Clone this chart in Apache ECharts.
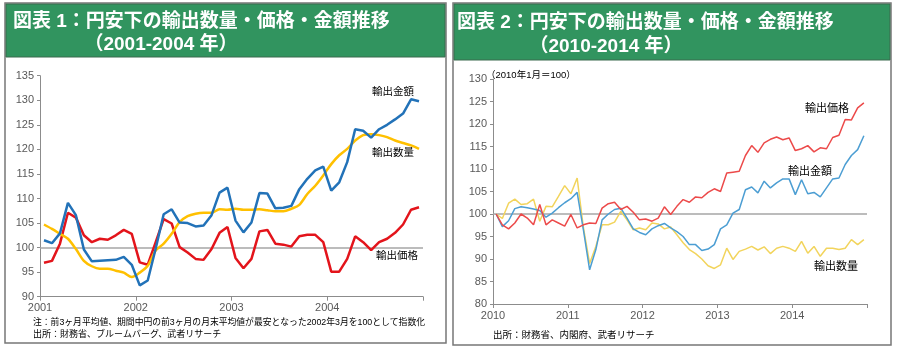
<!DOCTYPE html>
<html>
<head>
<meta charset="utf-8">
<script src="https://cdn.jsdelivr.net/npm/echarts@6/dist/echarts.min.js"></script>
<style>
  html, body { margin: 0; padding: 0; background: #fff; }
  #main { width: 900px; height: 354px; }
</style>
</head>
<body>
<div id="main"></div>
<script>
// 図表1 (2001-2004, 月次)
const years1 = ['2001', '2002', '2003', '2004'];
const amount1 = [101.5,100.9,102.9,109.1,106.6,99.6,97.2,97.3,97.4,97.5,98.1,96.5,
  92.3,93.3,99.8,106.8,107.8,105.1,105.0,104.3,104.5,106.6,111.2,112.2,
  105.5,103.1,105.1,111.1,111.0,108.0,108.1,108.5,111.9,114.0,115.7,116.5,
  111.6,113.3,117.4,124.1,123.8,122.4,124.1,125.0,126.1,127.3,130.2,129.8];
const price1 = [96.9,97.3,100.8,107.1,106.1,102.5,101.1,101.8,101.6,102.5,103.6,102.8,
  97.0,96.5,101.1,105.8,104.9,100.1,99.0,97.7,97.5,99.7,103.0,104.2,
  97.9,95.8,97.7,103.3,103.6,100.8,100.6,100.2,102.3,102.6,102.6,101.1,
  95.1,95.1,97.7,102.3,101.1,99.5,101.1,101.8,103.0,104.7,107.7,108.2];
const volume1 = [104.7,103.8,102.8,101.8,99.7,97.3,96.2,95.7,95.7,95.3,94.9,94.0,
  94.9,96.3,99.4,100.8,102.8,105.2,106.4,106.9,107.1,107.1,107.8,107.7,
  107.9,107.7,107.7,107.8,107.6,107.4,107.4,107.9,108.7,110.9,112.6,114.7,
  117.0,118.8,120.1,121.8,122.9,123.1,122.9,122.5,121.8,121.3,120.8,120.1];

// 図表2 (2010-2014, 月次)
const years2 = ['2010', '2011', '2012', '2013', '2014'];
const price2 = [100.0,97.6,96.7,98.0,100.0,99.1,97.6,102.1,97.6,98.7,98.0,97.3,
  99.9,96.9,97.6,98.0,97.9,101.3,102.3,102.6,101.0,101.7,100.4,98.7,
  98.9,98.4,99.1,101.6,99.9,101.7,103.2,102.6,103.8,103.6,104.8,105.6,
  105.0,109.1,109.3,109.5,113.0,115.2,113.7,115.8,116.6,117.1,116.5,116.9,
  114.1,114.5,115.2,113.8,114.7,114.5,117.0,117.5,121.0,120.9,123.6,124.7];
const amount2 = [100.0,97.2,98.5,101.2,101.6,101.4,101.1,100.8,99.3,100.2,101.4,102.5,
  103.4,104.8,96.5,87.6,92.1,98.7,100.0,101.0,101.3,99.1,96.7,95.9,
  95.4,96.7,97.4,97.9,96.9,96.1,95.0,93.2,93.2,91.9,92.2,93.2,
  96.7,97.6,100.2,101.0,105.4,106.0,104.7,107.3,105.8,106.9,107.8,107.8,
  104.3,107.6,104.5,104.8,103.8,105.8,107.8,108.0,111.0,113.0,114.3,117.4];
const volume2 = [100.0,99.0,102.4,103.3,102.1,102.3,103.3,98.4,101.7,101.6,103.9,106.3,
  104.5,108.0,97.0,89.0,92.8,97.6,97.6,98.2,100.6,98.7,96.5,96.9,
  96.5,98.0,97.8,96.7,97.1,95.4,93.6,92.1,91.2,90.0,88.5,87.9,
  88.7,92.4,89.9,91.7,92.2,92.8,92.0,92.7,91.2,92.4,92.8,92.4,
  91.7,93.9,91.3,92.8,90.6,92.4,92.4,92.1,92.4,94.3,93.2,94.3];

const FONT = "'Liberation Sans', 'Noto Sans CJK JP', sans-serif";
const GREEN = '#31945F';
const AXIS = '#8c8c8c';
const LABEL = '#595959';

// 月の中央に点を置く
function monthly(arr) {
  return arr.map((v, i) => [i + 0.5, v]);
}

function xAxisFor(idx, years) {
  return {
    type: 'value', gridIndex: idx, min: 0, max: years.length * 12, interval: 12,
    axisLine: { lineStyle: { color: AXIS, width: 1 } },
    axisTick: { length: 4, lineStyle: { color: AXIS } },
    splitLine: { show: false },
    axisLabel: {
      color: LABEL, fontSize: 11, fontFamily: FONT, margin: 6,
      formatter: v => years[v / 12] || ''
    }
  };
}

function yAxisFor(idx, min, max) {
  return {
    type: 'value', gridIndex: idx, min: min, max: max, interval: 5,
    axisLine: { show: true, lineStyle: { color: AXIS, width: 1 } },
    axisTick: { show: true, length: 3, lineStyle: { color: AXIS } },
    splitLine: { show: false },
    axisLabel: { color: LABEL, fontSize: 11, fontFamily: FONT, margin: 6 }
  };
}

function line(idx, data, color, width, smooth, base) {
  const s = {
    type: 'line', xAxisIndex: idx, yAxisIndex: idx,
    data: monthly(data), symbol: 'none', smooth: smooth,
    lineStyle: { color: color, width: width }, silent: true
  };
  if (base) {
    s.markLine = {
      silent: true, symbol: 'none', label: { show: false },
      lineStyle: { color: '#a6a6a6', width: 1.5, type: 'solid' },
      data: [{ yAxis: 100 }], z: 1
    };
  }
  return s;
}

function txt(x, y, text, font, extra) {
  return {
    type: 'text', x: x, y: y, z: 10,
    style: Object.assign({
      text: text, fill: '#000', font: font,
      textVerticalAlign: 'middle'
    }, extra || {})
  };
}

const HEAD = 'bold 19px ' + FONT;

const chart = echarts.init(document.getElementById('main'));
chart.setOption({
  animation: false,
  backgroundColor: '#fff',
  grid: [
    { left: 40, right: 477, top: 75.7, bottom: 57.3 },
    { left: 493, right: 33, top: 79, bottom: 50 }
  ],
  xAxis: [xAxisFor(0, years1), xAxisFor(1, years2)],
  yAxis: [yAxisFor(0, 90, 135), yAxisFor(1, 80, 130)],
  series: [
    line(0, price1, '#E3141B', 2.5, false, true),
    line(0, volume1, '#FFC000', 2.5, 0.3, false),
    line(0, amount1, '#2272B8', 2.5, false, false),
    line(1, volume2, '#F2D45C', 1.5, false, true),
    line(1, amount2, '#4C9ED3', 1.5, false, false),
    line(1, price2, '#EC4A4A', 1.5, false, false)
  ],
  graphic: [
    // 枠と見出し
    { type: 'rect', z: -10, shape: { x: 5, y: 3, width: 441, height: 340 },
      style: { fill: '#fff', stroke: '#777', lineWidth: 1.5 } },
    { type: 'rect', z: -9, shape: { x: 6, y: 4, width: 439, height: 53 },
      style: { fill: GREEN, stroke: '#3a6b4f', lineWidth: 1 } },
    { type: 'rect', z: -10, shape: { x: 453, y: 3, width: 438, height: 342 },
      style: { fill: '#fff', stroke: '#777', lineWidth: 1.5 } },
    { type: 'rect', z: -9, shape: { x: 454, y: 4, width: 436, height: 56 },
      style: { fill: GREEN, stroke: '#3a6b4f', lineWidth: 1 } },
    txt(13, 22, '図表 1：円安下の輸出数量・価格・金額推移', HEAD, { fill: '#fff' }),
    txt(161, 45, '（2001-2004 年）', HEAD, { fill: '#fff', textAlign: 'center' }),
    txt(457, 23, '図表 2：円安下の輸出数量・価格・金額推移', HEAD, { fill: '#fff' }),
    txt(606, 47, '（2010-2014 年）', HEAD, { fill: '#fff', textAlign: 'center' }),
    // 系列名
    txt(372, 92, '輸出金額', '10.5px ' + FONT),
    txt(372, 153, '輸出数量', '10.5px ' + FONT),
    txt(376, 256, '輸出価格', '10.5px ' + FONT),
    txt(805, 109, '輸出価格', '11px ' + FONT),
    txt(788, 172, '輸出金額', '11px ' + FONT),
    txt(814, 267, '輸出数量', '11px ' + FONT),
    // 注・出所
    txt(486, 75, '（2010年1月＝100）', '9.5px ' + FONT),
    txt(33, 323, '注：前3ヶ月平均値、期間中円の前3ヶ月の月末平均値が最安となった2002年3月を100として指数化', '8.8px ' + FONT),
    txt(33, 335, '出所：財務省、ブルームバーグ、武者リサーチ', '9px ' + FONT),
    txt(493, 335, '出所：財務省、内閣府、武者リサーチ', '9.5px ' + FONT)
  ]
});
</script>
</body>
</html>
